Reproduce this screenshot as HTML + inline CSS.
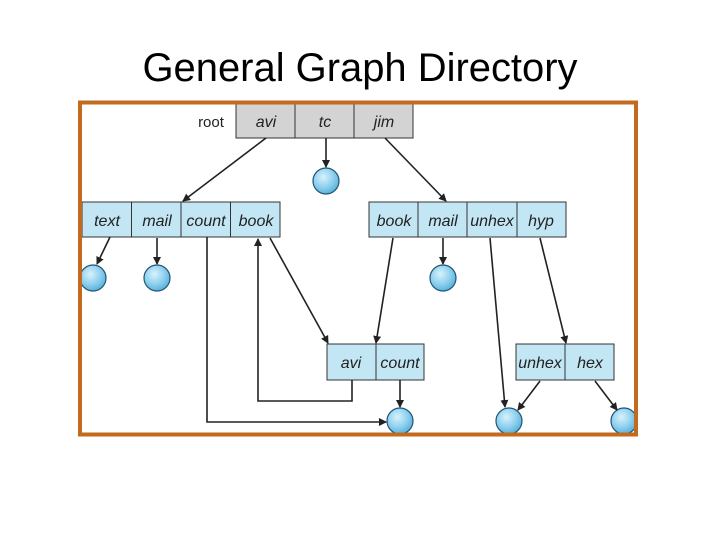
<!DOCTYPE html>
<html><head><style>
body{margin:0;background:#fff;width:720px;height:540px;overflow:hidden}
</style></head><body>
<svg width="720" height="540" xmlns="http://www.w3.org/2000/svg">
<defs>
<marker id="a" markerWidth="8" markerHeight="8" refX="7" refY="4" orient="auto" markerUnits="userSpaceOnUse"><path d="M0,0 L8,4 L0,8 Z" fill="#222"/></marker>
<radialGradient id="g" cx="40%" cy="35%" r="65%"><stop offset="0" stop-color="#d8f2fc"/><stop offset="0.6" stop-color="#8fd0ee"/><stop offset="1" stop-color="#5cb3dc"/></radialGradient>
<clipPath id="c"><rect x="81" y="103" width="554" height="330"/></clipPath>
</defs>
<text x="360" y="81" text-anchor="middle" font-family="Liberation Sans, sans-serif" font-size="40" fill="#000" textLength="435" lengthAdjust="spacingAndGlyphs">General Graph Directory</text>
<g clip-path="url(#c)" font-family="Liberation Sans, sans-serif" font-style="italic" font-size="16" fill="#222" text-anchor="middle">
<text x="211" y="127" font-style="normal" font-size="15">root</text>
<g stroke="#333" stroke-width="1" fill="#d3d3d3">
<rect x="236" y="104" width="59" height="34"/><rect x="295" y="104" width="59" height="34"/><rect x="354" y="104" width="59" height="34"/>
</g>
<text x="266" y="127">avi</text><text x="325" y="127">tc</text><text x="384" y="127">jim</text>
<g stroke="#333" stroke-width="1" fill="#c3e6f5">
<rect x="82" y="202" width="49.5" height="35"/><rect x="131.5" y="202" width="49.5" height="35"/><rect x="181" y="202" width="49.5" height="35"/><rect x="230.5" y="202" width="49.5" height="35"/>
<rect x="369" y="202" width="49" height="35"/><rect x="418" y="202" width="49" height="35"/><rect x="467" y="202" width="50" height="35"/><rect x="517" y="202" width="49" height="35"/>
<rect x="327" y="344" width="49" height="36"/><rect x="376" y="344" width="48" height="36"/>
<rect x="516" y="344" width="49" height="36"/><rect x="565" y="344" width="49" height="36"/>
</g>
<text x="107" y="226">text</text><text x="157" y="226">mail</text><text x="206" y="226">count</text><text x="256" y="226">book</text>
<text x="394" y="226">book</text><text x="443" y="226">mail</text><text x="492" y="226">unhex</text><text x="541" y="226">hyp</text>
<text x="351" y="368">avi</text><text x="400" y="368">count</text>
<text x="540" y="368">unhex</text><text x="590" y="368">hex</text>
<g fill="url(#g)" stroke="#1f5575" stroke-width="1.2">
<circle cx="326" cy="181" r="13"/><circle cx="93" cy="278" r="13"/><circle cx="157" cy="278" r="13"/><circle cx="443" cy="278" r="13"/>
<circle cx="400" cy="421" r="13"/><circle cx="509" cy="421" r="13"/><circle cx="624" cy="421" r="13"/>
</g>
<g stroke="#222" stroke-width="1.6" fill="none" marker-end="url(#a)">
<line x1="266" y1="138" x2="183" y2="201"/>
<line x1="326" y1="138" x2="326" y2="167"/>
<line x1="385" y1="138" x2="446" y2="201"/>
<line x1="110" y1="237" x2="97" y2="264"/>
<line x1="157" y1="238" x2="157" y2="264"/>
<line x1="270" y1="238" x2="328" y2="343"/>
<line x1="393" y1="238" x2="376" y2="343"/>
<line x1="443" y1="238" x2="443" y2="264"/>
<line x1="490" y1="238" x2="505" y2="407"/>
<line x1="540" y1="238" x2="566" y2="343"/>
<line x1="540" y1="381" x2="518" y2="410"/>
<line x1="595" y1="381" x2="617" y2="410"/>
<line x1="400" y1="380" x2="400" y2="407"/>
<polyline points="207,237 207,422 386,422"/>
<polyline points="352,380 352,401 258,401 258,239"/>
</g>
</g>
<rect x="80" y="102.5" width="556" height="332" fill="none" stroke="#c26b1e" stroke-width="4"/>
</svg>
</body></html>
